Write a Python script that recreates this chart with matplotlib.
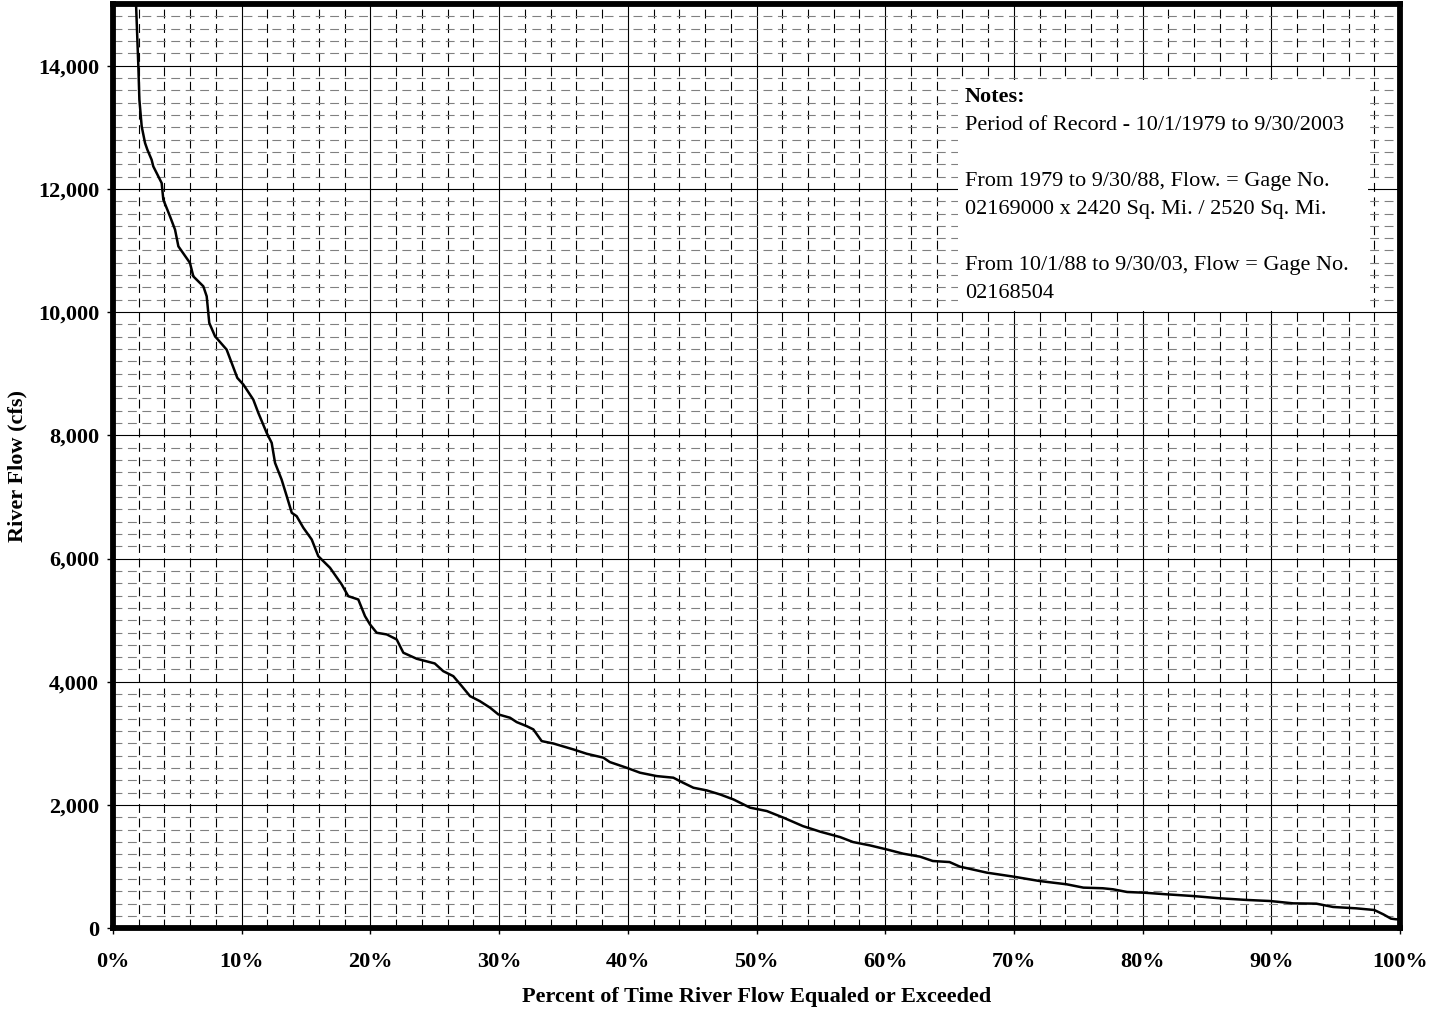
import numpy as np
import matplotlib
matplotlib.use("Agg")
import matplotlib.pyplot as plt
from matplotlib.ticker import MultipleLocator, FuncFormatter
from matplotlib.patches import Rectangle

plt.rcParams['font.family'] = ['Liberation Serif', 'DejaVu Serif']

# Кривая обеспеченности: % времени и расход (cfs)
pct = [1.7, 1.79, 1.97, 2.05, 2.23, 2.49, 2.67, 3.0, 3.13, 3.39, 3.78, 3.91, 4.43, 4.82,
       5.08, 5.98, 6.24, 7.02, 7.28, 7.48, 7.93, 8.83, 9.22, 9.66, 10.13, 10.9, 11.29,
       11.94, 12.33, 12.59, 13.1, 13.5, 13.89, 14.27, 14.79, 15.44, 15.95, 16.86, 17.77,
       18.28, 19.06, 19.58, 19.97, 20.49, 21.27, 22.04, 22.56, 23.6, 25.0, 25.66, 26.44,
       27.1, 27.74, 28.5, 29.3, 29.94, 30.85, 31.37, 32.14, 32.66, 33.31, 34.2, 35.77,
       36.8, 38.1, 38.6, 39.9, 40.95, 42.25, 43.54, 44.3, 45.1, 46.13, 47.16, 48.2, 49.5,
       50.8, 52.1, 53.6, 55.0, 56.5, 57.5, 58.8, 60.1, 61.4, 62.7, 63.7, 65.0, 65.8, 67.9,
       69.95, 72.0, 74.1, 75.4, 76.9, 77.7, 78.8, 80.1, 81.9, 83.9, 86.0, 88.1, 89.9,
       91.7, 93.5, 94.8, 96.6, 98.0, 98.7, 99.3, 99.7, 100.0]
flow = [15500, 15000, 13986, 13446, 13013, 12744, 12636, 12473, 12365, 12257, 12095, 11825,
        11553, 11338, 11067, 10798, 10580, 10418, 10256, 9824, 9607, 9391, 9175, 8932, 8824,
        8580, 8365, 8040, 7878, 7553, 7283, 7012, 6743, 6688, 6500, 6310, 6039, 5851, 5580,
        5390, 5336, 5066, 4931, 4796, 4769, 4688, 4472, 4374, 4298, 4173, 4092, 3930, 3768,
        3687, 3580, 3471, 3417, 3346, 3281, 3228, 3038, 3000, 2903, 2833, 2769, 2698, 2606,
        2525, 2470, 2444, 2362, 2281, 2238, 2173, 2092, 1958, 1903, 1795, 1659, 1565, 1480,
        1400, 1346, 1281, 1211, 1163, 1092, 1075, 1001, 903, 839, 767, 714, 660, 650, 633,
        589, 578, 551, 524, 487, 460, 443, 405, 400, 346, 324, 297, 227, 157, 146, 146]

notes_title = "Notes:"
notes_lines = ["Period of Record - 10/1/1979 to 9/30/2003",
               "",
               "From 1979 to 9/30/88, Flow. = Gage No.",
               "02169000 x 2420 Sq. Mi. / 2520 Sq. Mi.",
               "",
               "From 10/1/88 to 9/30/03, Flow = Gage No.",
               "02168504"]

W, H = 1431, 1010
fig = plt.figure(figsize=(W / 100, H / 100), dpi=100)
ax = fig.add_axes([113 / W, 1 - 928.3 / H, 1287 / W, 924.3 / H])

ax.plot(pct, flow, color='black', lw=1.8, zorder=4, solid_joinstyle='round')

ax.set_xlim(0, 100)
ax.set_ylim(0, 15000)
ax.xaxis.set_major_locator(MultipleLocator(10))
ax.xaxis.set_minor_locator(MultipleLocator(2))
ax.yaxis.set_major_locator(MultipleLocator(2000))
ax.yaxis.set_minor_locator(MultipleLocator(200))
ax.xaxis.set_major_formatter(FuncFormatter(lambda v, p: f"{v:.0f}%"))
ax.yaxis.set_major_formatter(FuncFormatter(lambda v, p: f"{v:,.0f}"))

ax.set_axisbelow(True)
ax.grid(which='major', color='black', lw=0.8, ls='-')
ax.grid(which='minor', axis='y', color='#808080', lw=0.8, ls=(0, (8, 5)))
ax.grid(which='minor', axis='x', color='black', lw=0.8, ls=(0, (8, 5)))

ax.tick_params(which='major', direction='out', length=4, width=1, color='black', labelsize=16)
ax.tick_params(which='minor', length=0)
ax.tick_params(axis='x', pad=13)
ax.tick_params(axis='y', pad=6)
for lab in ax.get_xticklabels() + ax.get_yticklabels():
    lab.set_fontweight('bold')

for s in ax.spines.values():
    s.set_linewidth(4.2)
    s.set_color('black')

ax.set_xlabel('Percent of Time River Flow Equaled or Exceeded', fontsize=16, fontweight='bold')
ax.set_ylabel('River Flow (cfs)', fontsize=16, fontweight='bold')
ax.xaxis.set_label_coords(0.5, (928.3 - 987) / 924.3)
ax.yaxis.set_label_coords((27 - 113) / 1287, 0.5)

# Блок примечаний
box = Rectangle(((958 - 113) / 1287, (928.3 - 311) / 924.3), 410 / 1287, 231 / 924.3,
                transform=ax.transAxes, facecolor='white', edgecolor='none', zorder=3)
ax.add_patch(box)

fig.text(965 / W, 1 - 102 / H, notes_title, fontsize=16, fontweight='bold', va='baseline')
for i, line in enumerate(notes_lines):
    fig.text(965 / W, 1 - (130 + 28 * i) / H, line, fontsize=16, va='baseline')

fig.savefig('out.png', dpi=100)
